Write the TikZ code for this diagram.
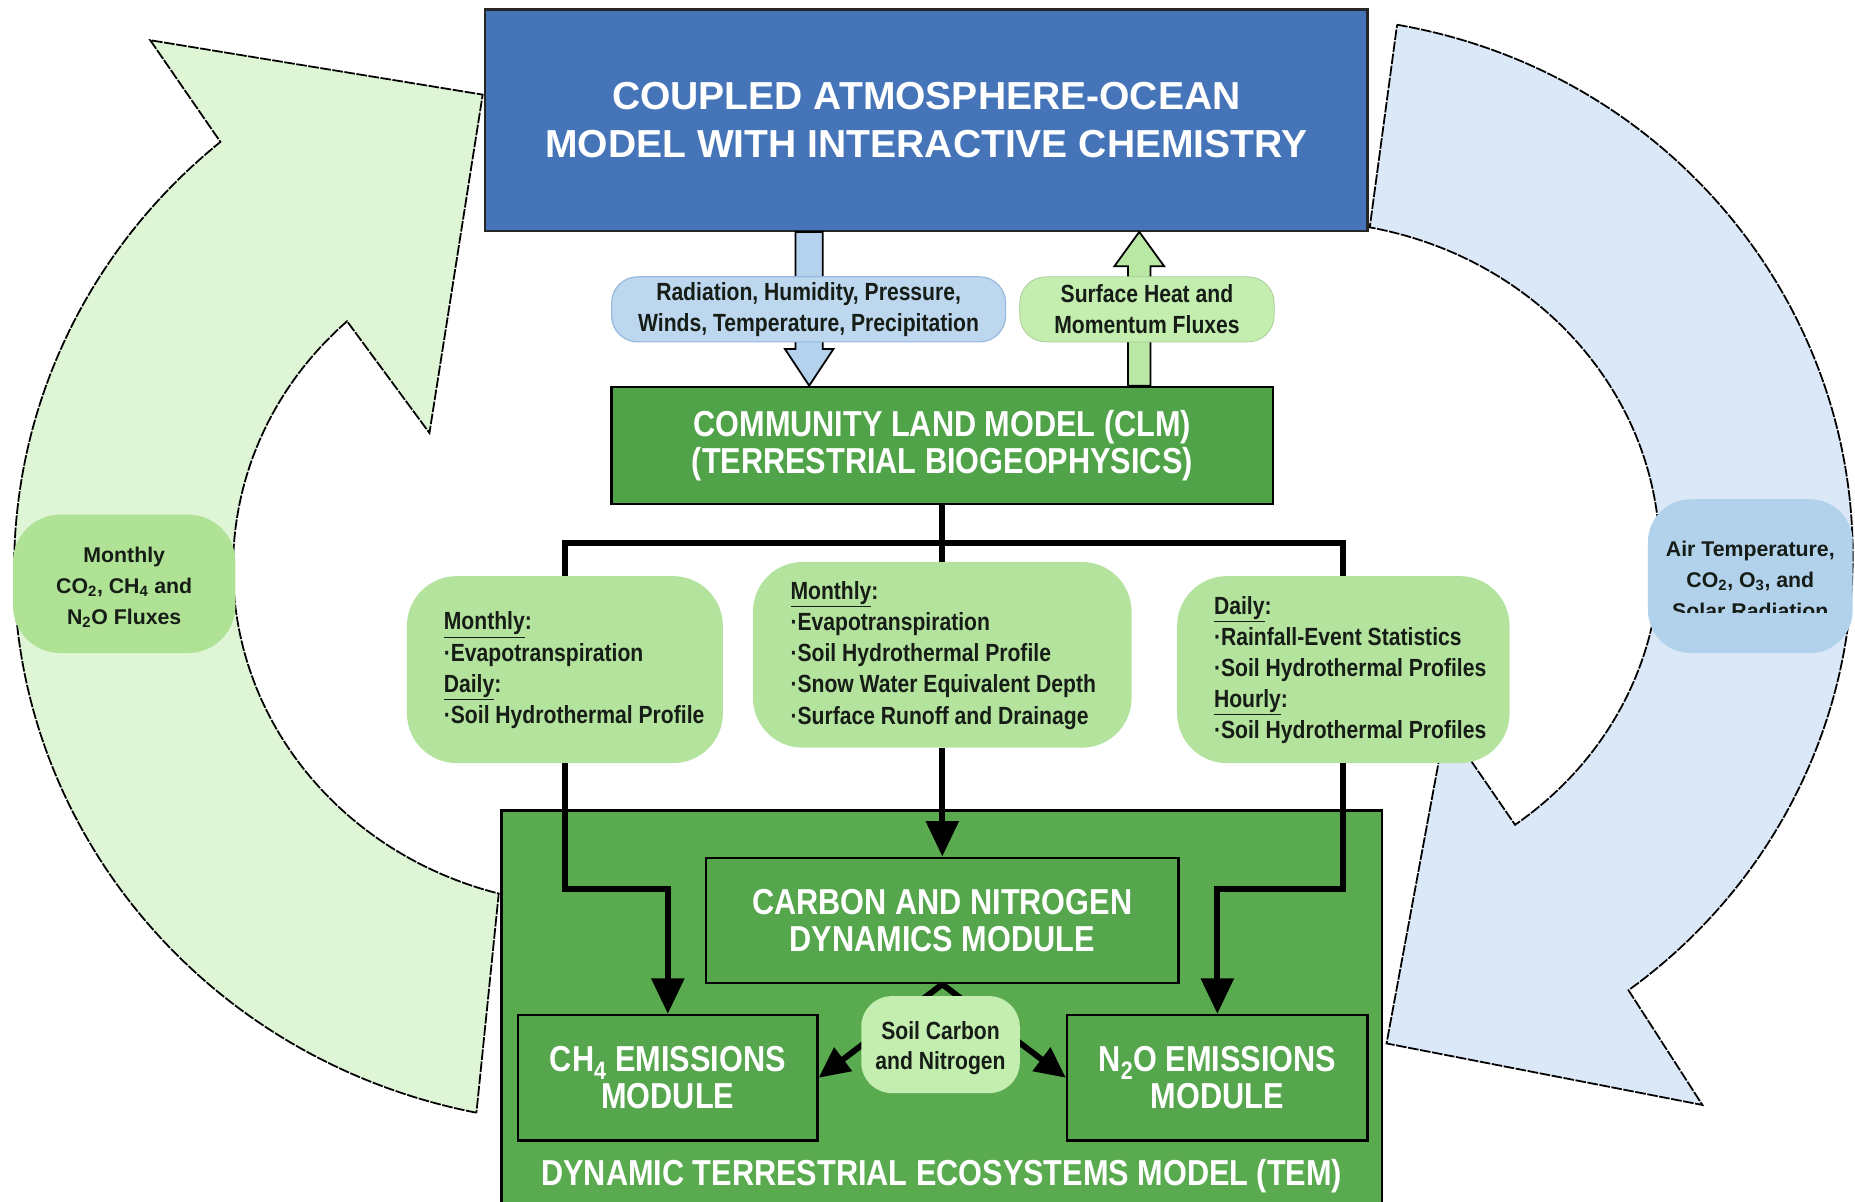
\documentclass[tikz,border=0pt]{standalone}
\usepackage{fontspec}
\setmainfont{Liberation Sans}
\newfontfamily\nfont{Liberation Sans}[FakeStretch=0.85]
\usetikzlibrary{arrows.meta,calc}
\definecolor{aocblue}{RGB}{69,117,184}
\definecolor{clmgreen}{RGB}{80,163,72}
\definecolor{temgreen}{RGB}{90,170,80}
\definecolor{modgreen}{RGB}{85,166,77}
\definecolor{lgbox}{RGB}{180,227,157}
\definecolor{surfgreen}{RGB}{196,238,176}
\definecolor{monthg}{RGB}{176,226,150}
\definecolor{radblue}{RGB}{189,215,238}
\definecolor{radedge}{RGB}{150,185,222}
\definecolor{airblue}{RGB}{178,210,236}
\definecolor{dnarrow}{RGB}{180,210,238}
\definecolor{uparrow}{RGB}{185,232,165}
\definecolor{lgarrow}{RGB}{222,245,214}
\definecolor{lbarrow}{RGB}{219,232,247}
\definecolor{darktext}{RGB}{22,28,22}
\begin{document}
\begin{tikzpicture}[x=1pt,y=-1pt,
  bigarrow/.style={draw=black, line width=1.5pt, dash pattern=on 9pt off 1.3pt, line join=miter},
  aocbox/.style={draw=black!85, line width=2pt, fill=aocblue, text=white, align=center,
    font=\bfseries\fontsize{33}{40}\selectfont, inner sep=0pt},
  gmod/.style={draw=black, line width=2pt, text=white, align=center,
    font=\nfont\bfseries\fontsize{30.5}{31}\selectfont, inner sep=0pt},
  gbox/.style={fill=lgbox, rounded corners=42pt, inner sep=0pt},
  gtext/.style={anchor=west, align=left, text=darktext, inner sep=0pt,
    font=\nfont\bfseries\fontsize{21}{26.3}\selectfont},
  lbl/.style={align=center, text=darktext, inner sep=0pt,
    font=\nfont\bfseries\fontsize{21}{26}\selectfont},
  lbltwo/.style={align=center, text=darktext, inner sep=0pt,
    font=\bfseries\fontsize{18}{26}\selectfont},
  conn/.style={draw=black, line width=5pt},
  bigtip/.style={-{Triangle[width=27pt,length=30pt]}},
  soiltip/.style={-{Triangle[width=24pt,length=26pt]}},
  blk/.style={draw=black, line width=1.5pt, line join=miter}
]
\fill[white] (0,0) rectangle (1568,1016);
\useasboundingbox (0,0) rectangle (1568,1016);
\clip (0,0) rectangle (1568,1016);

% left curved arrow (fluxes back to the atmosphere)
\path[bigarrow, fill=lgarrow]
  ($(500,480)+(101.5:488 and 470)$)
  arc[start angle=101.5, end angle=230, x radius=488, y radius=470]
  -- (127,34) -- (408,80) -- (363,366)
  -- ($(500,480)+(227:303 and 285)$)
  arc[start angle=227, end angle=105, x radius=303, y radius=285]
  -- cycle;

% right curved arrow (forcing to the ecosystem model)
\path[bigarrow, fill=lbarrow]
  ($(1100,470)+(-80:466 and 456)$)
  arc[start angle=-80, end angle=53.6, x radius=466, y radius=456]
  -- (1439,934) -- (1172,882) -- (1222,612)
  -- ($(1100,470)+(53.4:303 and 283)$)
  arc[start angle=53.4, end angle=-79, x radius=303, y radius=283]
  -- cycle;

% main boxes
\node[aocbox, minimum width=746, minimum height=187] (aoc) at (783,101.5)
  {COUPLED ATMOSPHERE-OCEAN\\MODEL WITH INTERACTIVE CHEMISTRY};
\node[gmod, fill=clmgreen, minimum width=559, minimum height=99] (clm) at (796.5,376.5)
  {COMMUNITY LAND MODEL (CLM)\\(TERRESTRIAL BIOGEOPHYSICS)};
\node[gmod, fill=temgreen, minimum width=744, minimum height=345] (tem) at (796,857.5) {};
\node[gmod, fill=modgreen, minimum width=399, minimum height=106] (carbon) at (796.5,778)
  {CARBON AND NITROGEN\\DYNAMICS MODULE};
\node[gmod, fill=modgreen, minimum width=253, minimum height=106] (ch4) at (564.5,911)
  {CH\textsubscript{4} EMISSIONS\\MODULE};
\node[gmod, fill=modgreen, minimum width=254, minimum height=106] (n2o) at (1029,911)
  {N\textsubscript{2}O EMISSIONS\\MODULE};
\node[gmod, draw=none, fill=none] (temlabel) at (796,994)
  {DYNAMIC TERRESTRIAL ECOSYSTEMS MODEL (TEM)};

% block arrows between atmosphere model and CLM
\coordinate (dx) at (684,0);
\coordinate (ux) at (963,0);
\coordinate (dtop) at (aoc.south -| dx);
\coordinate (dbot) at (clm.north -| dx);
\coordinate (utop) at (aoc.south -| ux);
\coordinate (ubot) at (clm.north -| ux);
\draw[blk, fill=dnarrow] ($(dtop)+(-11.5,0)$) -- ($(dbot)+(-11.5,-31)$) -- ($(dbot)+(-20.5,-31)$)
  -- (dbot) -- ($(dbot)+(20.5,-31)$) -- ($(dbot)+(11.5,-31)$) -- ($(dtop)+(11.5,0)$) -- cycle;
\draw[blk, fill=uparrow] ($(ubot)+(-9.5,0)$) -- ($(utop)+(-9.5,29)$) -- ($(utop)+(-21,29)$)
  -- (utop) -- ($(utop)+(21,29)$) -- ($(utop)+(9.5,29)$) -- ($(ubot)+(9.5,0)$) -- cycle;
\node[lbl, fill=radblue, draw=radedge, line width=1pt, rounded corners=22pt,
  minimum width=333, minimum height=55] (rad) at (683.5,261.5)
  {Radiation, Humidity, Pressure,\\Winds, Temperature, Precipitation};
\node[lbl, fill=surfgreen, draw=surfgreen!85!black, line width=0.6pt, rounded corners=22pt,
  minimum width=215, minimum height=55] (surf) at (969.5,261.5)
  {Surface Heat and\\Momentum Fluxes};

% data boxes
\node[gbox, minimum width=267, minimum height=158] (boxL) at (477.5,566) {};
\node[gtext] (boxLtext) at (375,566.5)
  {\underline{Monthly}:\\·Evapotranspiration\\\underline{Daily}:\\·Soil Hydrothermal Profile};
\node[gbox, minimum width=320, minimum height=157] (boxM) at (796.5,553.5) {};
\node[gtext] (boxMtext) at (668,554)
  {\underline{Monthly}:\\·Evapotranspiration\\·Soil Hydrothermal Profile\\·Snow Water Equivalent Depth\\·Surface Runoff and Drainage};
\node[gbox, minimum width=281, minimum height=158] (boxR) at (1135.5,566) {};
\node[gtext] (boxRtext) at (1026,566.5)
  {\underline{Daily}:\\·Rainfall-Event Statistics\\·Soil Hydrothermal Profiles\\\underline{Hourly}:\\·Soil Hydrothermal Profiles};

% connectors
\coordinate (bar) at ($(clm.south)+(0,32)$);
\draw[conn] (clm.south) -- (bar);
\draw[conn] (bar) -| (boxL.north);
\draw[conn] (bar) -| (boxR.north);
\draw[conn] (bar) -- (boxM.north);
\draw[conn, bigtip] (boxL.south) -- ++(0,106) -| (ch4.north);
\draw[conn, bigtip] (boxM.south) -- (carbon.north);
\draw[conn, bigtip] (boxR.south) -- ++(0,106) -| (n2o.north);
\draw[conn, soiltip] (carbon.south) -- (ch4.east);
\draw[conn, soiltip] (carbon.south) -- (n2o.west);
\node[lbl, fill=surfgreen, rounded corners=26pt, minimum width=134, minimum height=82] (soil) at (795,883) {};
\node[lbl] (soiltext) at (795,886) {Soil Carbon\\and Nitrogen};

% side labels on the curved arrows
\node[lbltwo, fill=monthg, rounded corners=40pt, minimum width=188, minimum height=117] (flux) at (105,493.5) {};
\node[lbltwo] (fluxtext) at (105,496.5)
  {Monthly\\CO\textsubscript{2}, CH\textsubscript{4} and\\N\textsubscript{2}O Fluxes};
\node[lbltwo, fill=airblue, rounded corners=36pt, minimum width=173, minimum height=130] (air) at (1479.5,487) {};
\begin{scope}
  \clip (1393,422) rectangle (1566,518);
  \node[lbltwo] (airtext) at ($(air.center)+(0,3)$)
    {Air Temperature,\\CO\textsubscript{2}, O\textsubscript{3}, and\\Solar Radiation};
\end{scope}
\end{tikzpicture}
\end{document}
